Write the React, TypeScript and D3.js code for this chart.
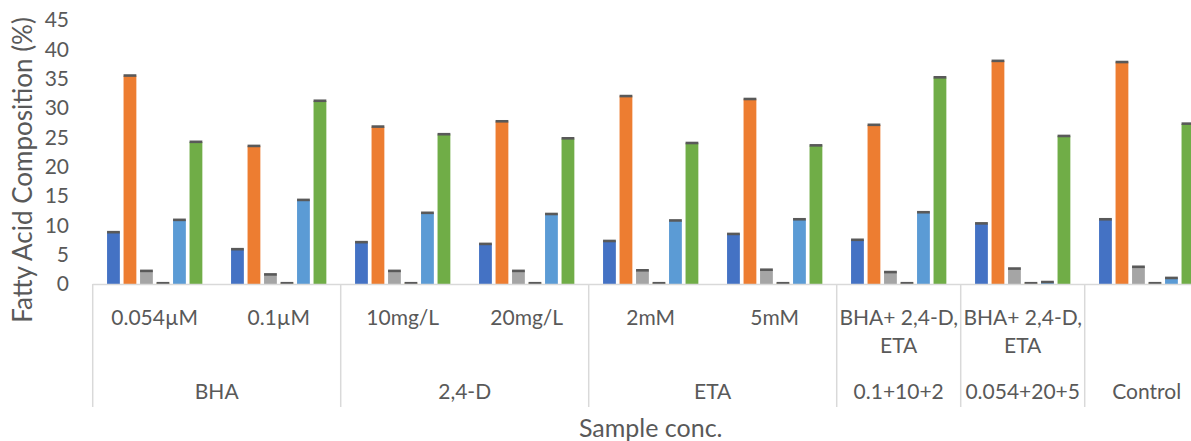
import React from 'react';
import * as d3 from 'd3';

// categories (level 1 labels, may span two lines) and their parent groups
const categories = ['0.054µM', '0.1µM', '10mg/L', '20mg/L', '2mM', '5mM', 'BHA+ 2,4-D,|ETA', 'BHA+ 2,4-D,|ETA', ''];
const groups = [
  { name: 'BHA', span: 2 },
  { name: '2,4-D', span: 2 },
  { name: 'ETA', span: 2 },
  { name: '0.1+10+2', span: 1 },
  { name: '0.054+20+5', span: 1 },
  { name: 'Control', span: 1 },
];

// series values, one per category
const blueSeries = [8.8, 5.9, 7.1, 6.8, 7.3, 8.5, 7.5, 10.3, 11.0];
const orangeSeries = [35.5, 23.5, 26.8, 27.7, 32.0, 31.5, 27.1, 38.0, 37.8];
const graySeries = [2.2, 1.6, 2.2, 2.2, 2.3, 2.4, 2.0, 2.6, 2.9];
const yellowSeries = [0.1, 0.1, 0.1, 0.1, 0.1, 0.1, 0.1, 0.1, 0.1];
const lightBlueSeries = [10.9, 14.3, 12.1, 11.9, 10.8, 11.0, 12.2, 0.3, 1.0];
const greenSeries = [24.2, 31.2, 25.5, 24.8, 24.0, 23.6, 35.2, 25.2, 27.3];

const series = [
  { key: 's1', values: blueSeries, color: '#4472C4' },
  { key: 's2', values: orangeSeries, color: '#ED7D31' },
  { key: 's3', values: graySeries, color: '#A5A5A5' },
  { key: 's4', values: yellowSeries, color: '#FFC000' },
  { key: 's5', values: lightBlueSeries, color: '#5B9BD5' },
  { key: 's6', values: greenSeries, color: '#70AD47' },
];

const yTicks = [0, 5, 10, 15, 20, 25, 30, 35, 40, 45];

const W = 1191;
const H = 441;
const FONT = 'Lato, "Open Sans", sans-serif';
const TEXT = '#595959';
const LINE = '#D9D9D9';

export default function App() {
  // the plot runs past the right edge of the picture, as in the original
  const left = 92.7;
  const right = left + 124 * categories.length;
  const top = 20;
  const bottom = 284;
  const axisBottom = 407;

  const x = d3.scaleBand<number>()
    .domain(d3.range(categories.length))
    .range([left, right]);

  const xInner = d3.scaleBand<string>()
    .domain(series.map(s => s.key))
    .range([0, x.bandwidth()])
    .paddingInner(0.224)
    .paddingOuter(0.87);

  const y = d3.scaleLinear().domain([0, 45]).range([bottom, top]);

  // group boundaries
  let acc = 0;
  const groupPos = groups.map(g => {
    const x0 = x(acc)!;
    acc += g.span;
    const x1 = x(acc - 1)! + x.bandwidth();
    return { ...g, x0, x1 };
  });

  return (
    <div style={{ position: 'fixed', left: 0, top: 0, background: '#fff' }}>
      <svg width={W} height={H} style={{ display: 'block' }} fontFamily={FONT}>
        <rect width={W} height={H} fill="#fff" />

        {/* bars */}
        {series.map(s => (
          <g key={s.key}>
            {s.values.map((v, i) => {
              const bx = x(i)! + xInner(s.key)!;
              const bw = xInner.bandwidth();
              return (
                <g key={i}>
                  <rect x={bx} y={y(v)} width={bw} height={bottom - y(v)} fill={s.color} />
                  <rect x={bx} y={y(v) - 1.5} width={bw} height={2.6} fill="#595959" />
                </g>
              );
            })}
          </g>
        ))}

        {/* horizontal axis line */}
        <line x1={left} x2={right} y1={bottom + 0.5} y2={bottom + 0.5} stroke={LINE} strokeWidth={1.5} />

        {/* category separators */}
        {[groupPos[0].x0, ...groupPos.map(g => g.x1)].map((gx, i) => (
          <line key={i} x1={gx} x2={gx} y1={bottom} y2={axisBottom} stroke={LINE} strokeWidth={1.5} />
        ))}

        {/* y tick labels */}
        {yTicks.map(t => (
          <text key={t} x={69} y={y(t)} dy="0.35em" textAnchor="end" fontSize={21} fill={TEXT}>
            {t}
          </text>
        ))}

        {/* level 1 labels */}
        {categories.map((c, i) => {
          const lines = c.split('|');
          return (
            <text key={i} x={x(i)! + x.bandwidth() / 2} y={318} textAnchor="middle" fontSize={21} fill={TEXT}>
              {lines.map((l, j) => (
                <tspan key={j} x={x(i)! + x.bandwidth() / 2} dy={j === 0 ? '0.35em' : 28}>{l}</tspan>
              ))}
            </text>
          );
        })}

        {/* level 2 labels */}
        {groupPos.map(g => (
          <text key={g.name} x={(g.x0 + g.x1) / 2} y={392} dy="0.35em" textAnchor="middle" fontSize={21} fill={TEXT}>
            {g.name}
          </text>
        ))}

        {/* axis titles */}
        <text x={(left + right) / 2} y={428} dy="0.35em" textAnchor="middle" fontSize={25} fill={TEXT}>
          Sample conc.
        </text>
        <text
          transform={`translate(23, ${(top + bottom) / 2 + 18}) rotate(-90)`}
          dy="0.35em"
          textAnchor="middle"
          fontSize={26}
          fill={TEXT}
        >
          Fatty Acid Composition (%)
        </text>
      </svg>
    </div>
  );
}
